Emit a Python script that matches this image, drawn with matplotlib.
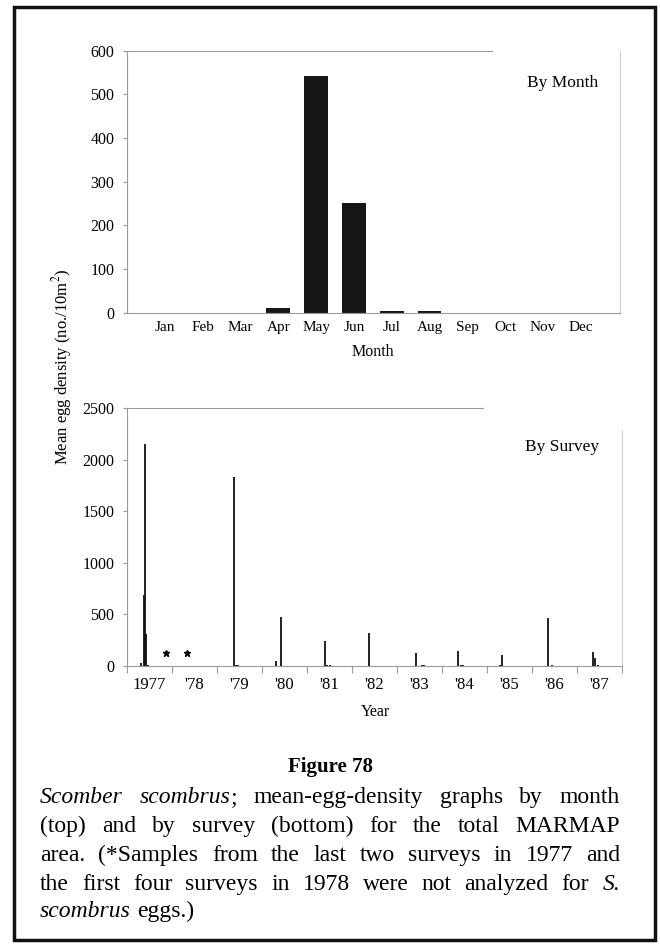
import matplotlib
matplotlib.use('Agg')
import matplotlib.pyplot as plt
from matplotlib.patches import Rectangle
import numpy as np

plt.rcParams['font.family'] = ['Liberation Serif', 'DejaVu Serif']
plt.rcParams['mathtext.fontset'] = 'stix'

# mean egg density by month
months = ['Jan', 'Feb', 'Mar', 'Apr', 'May', 'Jun', 'Jul', 'Aug', 'Sep', 'Oct', 'Nov', 'Dec']
month_density = [0.3, 0.3, 0.2, 10, 543, 252, 4, 3, 0.3, 0.3, 0.3, 0.3]

# mean egg density by survey (survey midpoint as decimal year)
survey_time = [1977.31, 1977.37, 1977.40, 1977.42, 1977.46, 1977.50,
               1979.37, 1979.43, 1979.47,
               1980.30, 1980.43,
               1981.39, 1981.45, 1981.50,
               1982.38, 1982.44,
               1983.42, 1983.55, 1983.60,
               1984.36, 1984.42, 1984.47,
               1985.33, 1985.28,
               1986.35, 1986.45,
               1987.35, 1987.41, 1987.47]
survey_density = [32, 685, 2155, 310, 8, 4,
                  1830, 10, 6,
                  48, 472,
                  238, 12, 5,
                  322, 4,
                  122, 6, 5,
                  148, 8, 5,
                  107, 6,
                  468, 6,
                  133, 80, 6]

# surveys whose samples were not analyzed
missing_time = [1977.87, 1978.33]
missing_mark = [125, 125]

year_ticks = list(range(1977, 1989))
year_labels = ['1977', "'78", "'79", "'80", "'81", "'82", "'83", "'84", "'85", "'86", "'87"]

W, H = 660, 949
fig = plt.figure(figsize=(W / 100, H / 100), dpi=100)

spine_col = '#9a9a9a'
light_col = '#d0d0d0'


def style_axes(ax, top_frac, right_lo):
    ax.spines['left'].set_color(spine_col)
    ax.spines['bottom'].set_color(spine_col)
    ax.spines['right'].set_color(light_col)
    ax.spines['top'].set_visible(False)
    lo, hi = ax.get_ylim()
    ax.spines['right'].set_bounds(lo, lo + (hi - lo) * right_lo)
    # short top rule that stops part way across
    ax.plot([0, top_frac], [1, 1], transform=ax.transAxes, color=spine_col,
            lw=0.8, clip_on=False)
    ax.tick_params(axis='y', direction='out', length=3, color=spine_col,
                   labelsize=11.5, pad=6)


# top panel: by month
ax1 = fig.add_axes([127 / W, 1 - 312.7 / H, 493 / W, 262 / H])
x = np.arange(1, 13)
ax1.bar(x, month_density, width=0.63, color='#161616')
ax1.set_xlim(0, 13.04)
ax1.set_ylim(0, 600)
ax1.set_yticks(range(0, 601, 100))
ax1.set_xticks(x)
ax1.set_xticklabels(months)
ax1.tick_params(axis='x', length=0, labelsize=11, pad=6)
style_axes(ax1, 0.74, 1.0)
ax1.text(0.884, 0.877, 'By Month', transform=ax1.transAxes, ha='center',
         va='center', fontsize=12.5)
fig.text(373 / W, 1 - 352 / H, 'Month', ha='center', va='center', fontsize=11.5)

# bottom panel: by survey
ax2 = fig.add_axes([127 / W, 1 - 666 / H, 495 / W, 258 / H])
ax2.vlines(survey_time, 0, survey_density, colors='#111111', lw=1.3)
ax2.plot(missing_time, missing_mark, linestyle='none', marker='*', ms=5,
         color='black')
ax2.set_xlim(1977, 1988)
ax2.set_ylim(0, 2500)
ax2.set_yticks(range(0, 2501, 500))
ax2.set_xticks(year_ticks)
ax2.set_xticklabels([''] * len(year_ticks))
ax2.set_xticks([y + 0.5 for y in year_ticks[:-1]], minor=True)
ax2.set_xticklabels(year_labels, minor=True)
ax2.tick_params(axis='x', which='major', direction='out', length=5, color=spine_col)
ax2.tick_params(axis='x', which='minor', length=0, labelsize=12, pad=8)
style_axes(ax2, 0.72, 0.915)
ax2.text(0.879, 0.85, 'By Survey', transform=ax2.transAxes, ha='center',
         va='center', fontsize=12.5)
fig.text(375 / W, 1 - 712 / H, 'Year', ha='center', va='center', fontsize=11.5)

fig.text(62 / W, 1 - 367 / H, 'Mean egg density (no./10m$^2$)', rotation=90,
         ha='center', va='center', fontsize=12)

# caption
fig.text(330 / W, 1 - 767 / H, 'Figure 78', ha='center', va='center',
         fontsize=15, fontweight='bold')

cap_lines = [
    [[('Scomber', 'italic')], [('scombrus', 'italic'), (';', 'normal')],
     [('mean-egg-density', 'normal')], [('graphs', 'normal')], [('by', 'normal')],
     [('month', 'normal')]],
    [[(w, 'normal')] for w in '(top) and by survey (bottom) for the total MARMAP'.split()],
    [[(w, 'normal')] for w in 'area. (*Samples from the last two surveys in 1977 and'.split()],
    [[(w, 'normal')] for w in 'the first four surveys in 1978 were not analyzed for'.split()]
    + [[('S.', 'italic')]],
    [[('scombrus', 'italic')], [('eggs.)', 'normal')]],
]
# baselines of the caption lines, in pixels from the top
cap_base = [803, 832, 861, 890, 917]
cap_left, cap_right = 40, 620

renderer = fig.canvas.get_renderer()


def run_width(txt, style, size):
    t = fig.text(0, 0, txt, fontsize=size, style=style)
    w = t.get_window_extent(renderer).width
    t.remove()
    return w


# largest size where every justified line still keeps a normal word space
cap_size = 17.0
while cap_size > 10:
    space = run_width('a b', 'normal', cap_size) - run_width('ab', 'normal', cap_size)
    ok = True
    for line in cap_lines[:-1]:
        total = sum(run_width(t, s, cap_size) for word in line for t, s in word)
        if total + space * (len(line) - 1) > cap_right - cap_left:
            ok = False
    if ok:
        break
    cap_size -= 0.25

space = run_width('a b', 'normal', cap_size) - run_width('ab', 'normal', cap_size)
for i, (line, yy) in enumerate(zip(cap_lines, cap_base)):
    widths = [[run_width(t, s, cap_size) for t, s in word] for word in line]
    total = sum(sum(w) for w in widths)
    if i < len(cap_lines) - 1:
        gap = (cap_right - cap_left - total) / (len(line) - 1)
    else:
        gap = space
    xx = cap_left
    for word, ws in zip(line, widths):
        for (t, s), w in zip(word, ws):
            fig.text(xx / W, 1 - yy / H, t, fontsize=cap_size, style=s,
                     ha='left', va='baseline')
            xx += w
        xx += gap

# page frame
fig.add_artist(Rectangle((14 / W, 1 - 940 / H), 641 / W, 933 / H,
                         transform=fig.transFigure, fill=False, lw=2.5,
                         edgecolor='#111111'))

fig.savefig('out.png', dpi=100)
